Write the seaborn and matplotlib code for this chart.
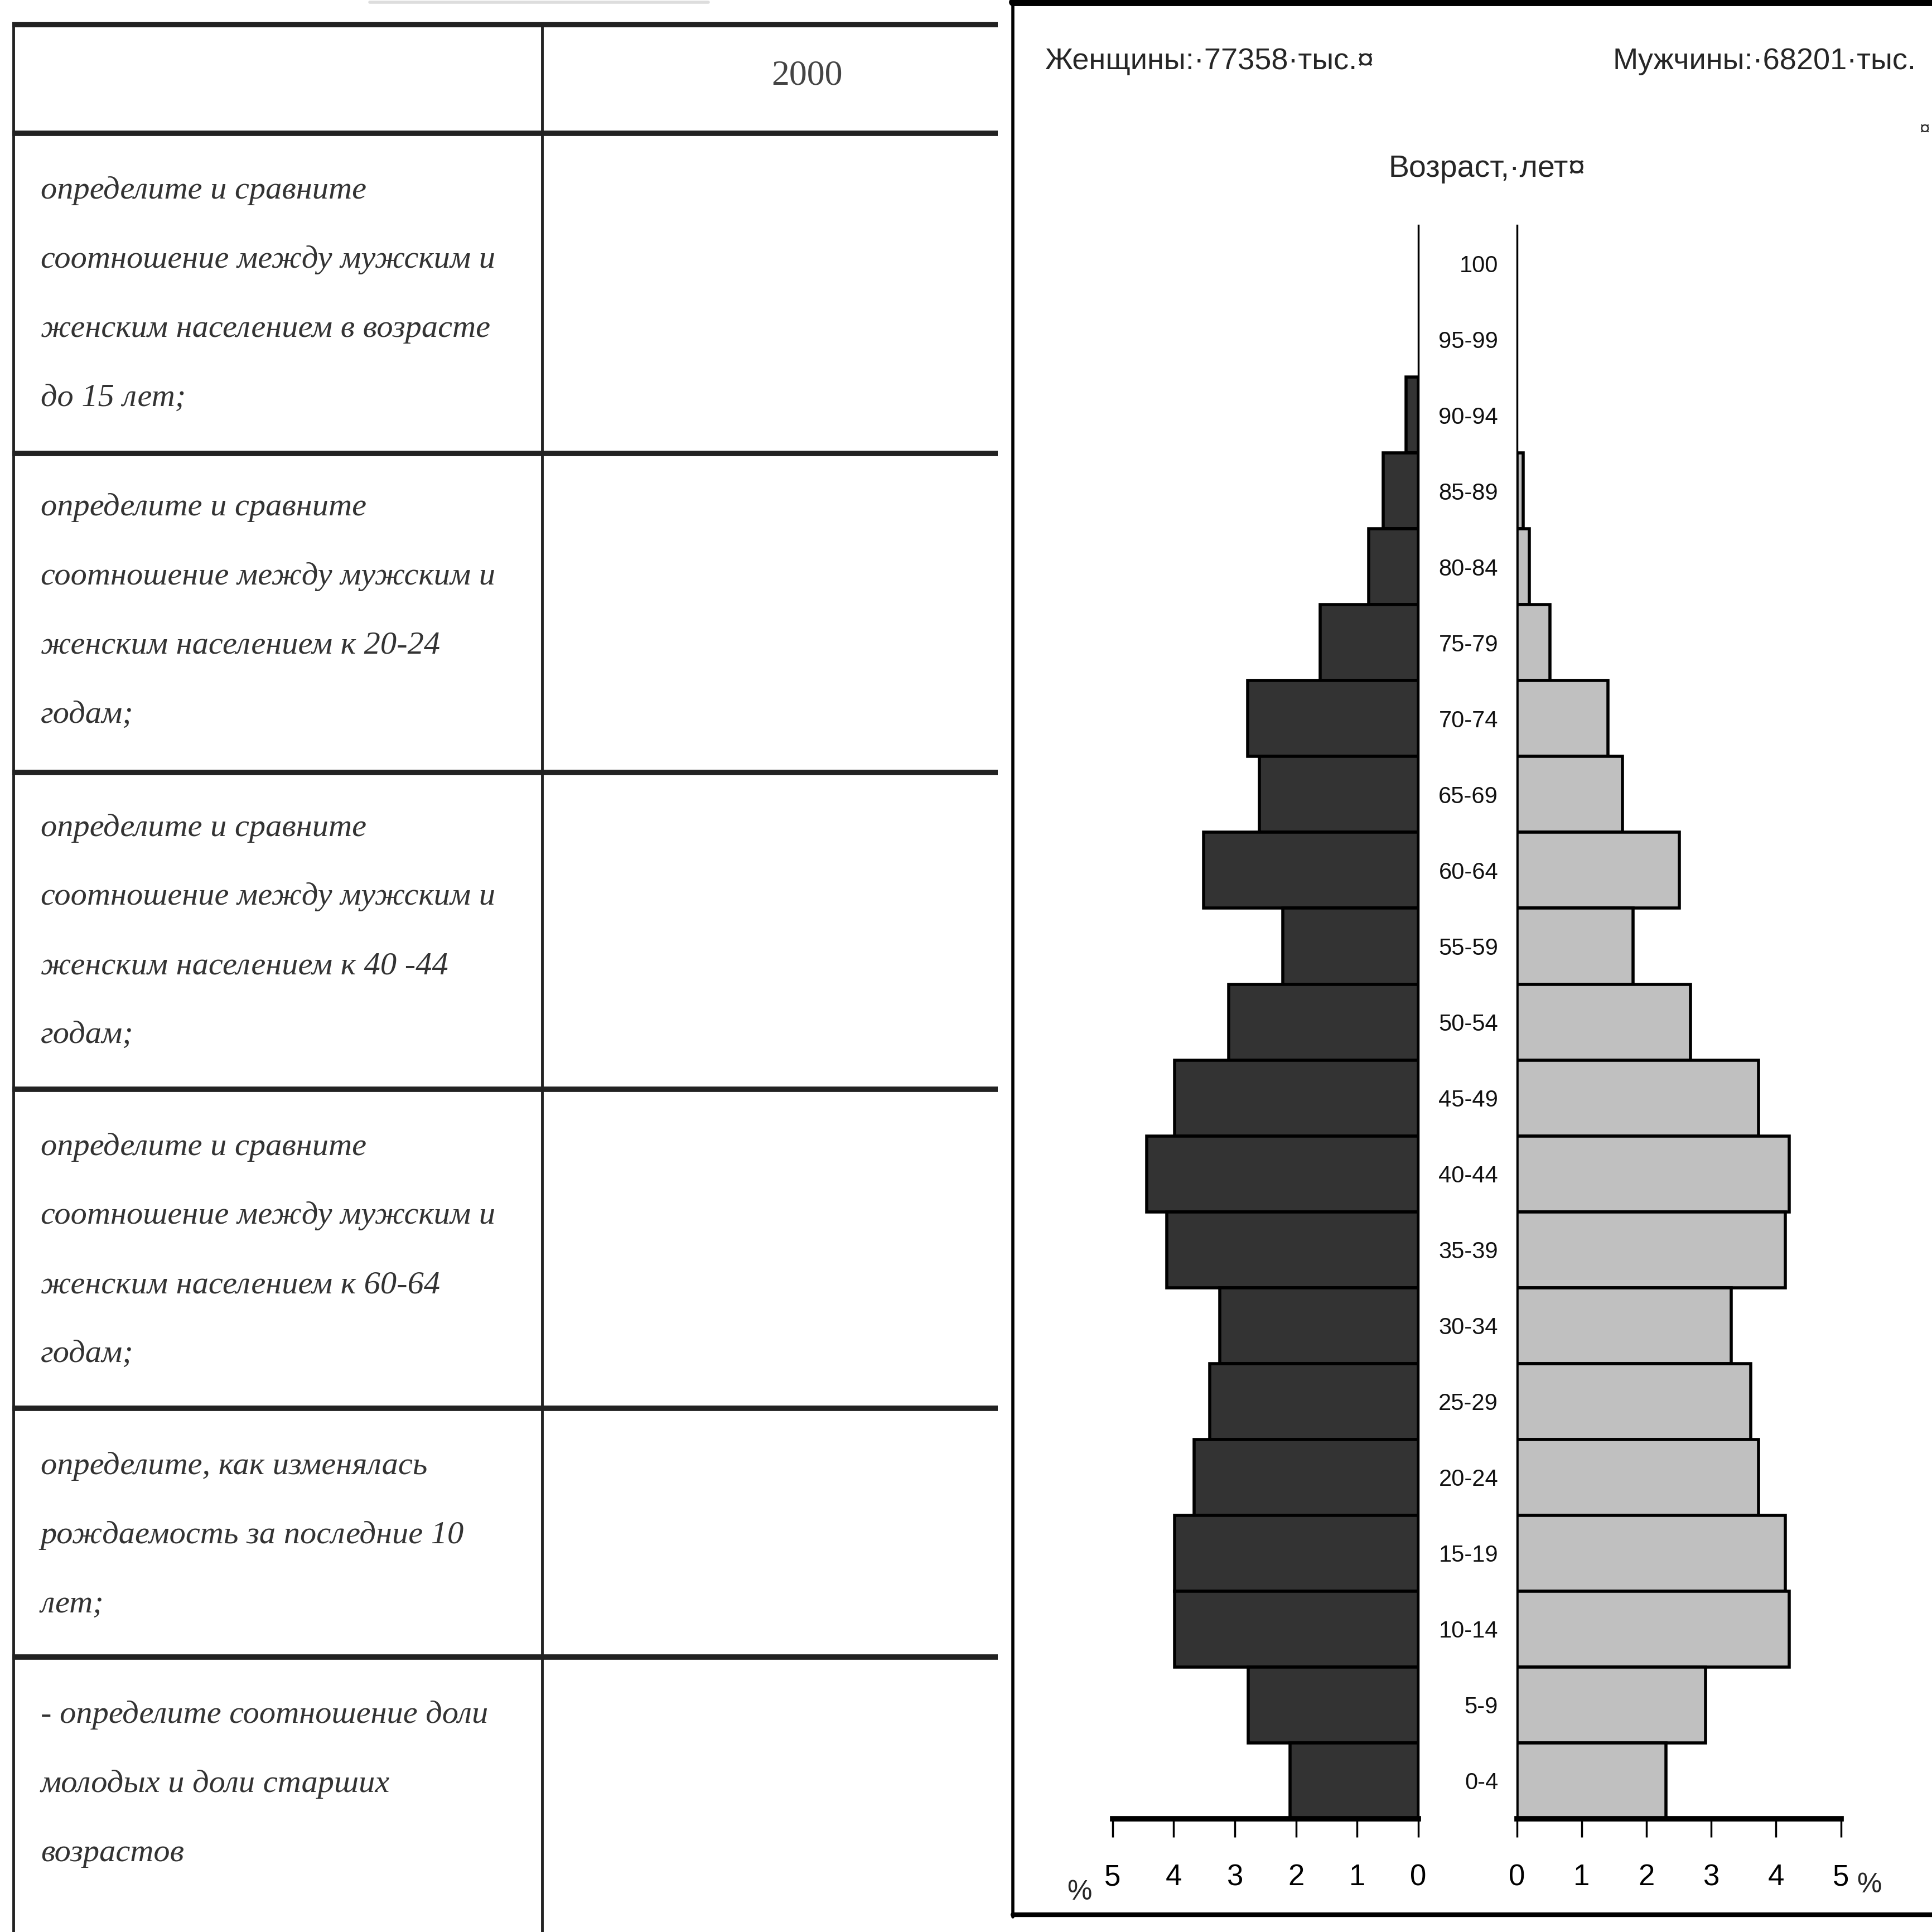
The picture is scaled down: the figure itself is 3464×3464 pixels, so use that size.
import matplotlib
matplotlib.use('Agg')
import matplotlib.pyplot as plt
import matplotlib.font_manager as fm
import seaborn as sns
import pandas as pd

# Data (percent of total population)
ages = ['100', '95-99', '90-94', '85-89', '80-84', '75-79', '70-74', '65-69', '60-64', '55-59',
        '50-54', '45-49', '40-44', '35-39', '30-34', '25-29', '20-24', '15-19', '10-14', '5-9', '0-4']
female = [0, 0, 0.20, 0.57, 0.81, 1.60, 2.79, 2.60, 3.51, 2.22, 3.10, 3.99, 4.44, 4.11,
          3.25, 3.41, 3.67, 3.99, 3.99, 2.78, 2.10]
male = [0, 0, 0, 0.10, 0.19, 0.51, 1.41, 1.63, 2.51, 1.79, 2.68, 3.73, 4.20, 4.14,
        3.31, 3.61, 3.73, 4.14, 4.20, 2.91, 2.30]
pct_ticks = [0, 1, 2, 3, 4, 5]

title_female = 'Женщины:·77358·тыс.¤'
title_male = 'Мужчины:·68201·тыс.'
title_age = 'Возраст,·лет¤'

# Worksheet table on the left
table_header = '2000'
questions = [
    ['определите и сравните', 'соотношение между мужским и', 'женским населением в возрасте', 'до 15 лет;'],
    ['определите и сравните', 'соотношение между мужским и', 'женским населением к 20-24', 'годам;'],
    ['определите и сравните', 'соотношение между мужским и', 'женским населением к 40 -44', 'годам;'],
    ['определите и сравните', 'соотношение между мужским и', 'женским населением к 60-64', 'годам;'],
    ['определите, как изменялась', 'рождаемость за последние 10', 'лет;'],
    ['- определите соотношение доли', 'молодых и доли старших', 'возрастов'],
]

df = pd.DataFrame({'age': ages, 'female': female, 'male': male})

sns.set_theme(style='white')
installed = {f.name for f in fm.fontManager.ttflist}
narrow = next((n for n in ['Liberation Sans Narrow', 'DejaVu Sans Condensed', 'Liberation Sans']
               if n in installed), 'DejaVu Sans')
sans = [narrow, 'DejaVu Sans']
serif = ['Liberation Serif', 'DejaVu Serif']
plt.rcParams['font.family'] = sans

S = 1568  # layout grid (reference pixel units)
fig = plt.figure(figsize=(34.64, 34.64), dpi=100)

# background layer for the table and frame
bg = fig.add_axes([0, 0, 1, 1])
bg.set_xlim(0, S)
bg.set_ylim(S, 0)
bg.axis('off')

tcol = '#222222'
row_lines = [20, 108, 368, 627, 884, 1143, 1345]
for y in row_lines:
    bg.plot([10, 810], [y, y], color=tcol, lw=7, solid_capstyle='butt')
bg.plot([11, 11], [20, 1568], color=tcol, lw=3.5)
bg.plot([440, 440], [20, 1568], color=tcol, lw=3.5)
bg.plot([300, 575], [2, 2], color='#dddddd', lw=4)

bg.text(655, 62, table_header, fontsize=46, family=serif, color='#444444',
        ha='center', va='center')
row_starts = [155, 412, 672, 931, 1190, 1392]
for y0, lines in zip(row_starts, questions):
    for i, line in enumerate(lines):
        bg.text(33, y0 + i * 56, line, fontsize=42, family=serif, style='italic',
                color='#333333', ha='left', va='center')

# frame around the pyramid
bg.plot([822, 822], [0, 1556], color='black', lw=4)
bg.plot([822, S], [2, 2], color='black', lw=10)
bg.plot([822, S], [1554, 1554], color='black', lw=6)

bg.text(848, 50, title_female, fontsize=39, ha='left', va='center')
bg.text(1555, 50, title_male, fontsize=39, ha='right', va='center')
bg.text(1562, 105, '¤', fontsize=24, ha='center', va='center')
bg.text(1207, 137, title_age, fontsize=40, ha='center', va='center')
bg.text(876, 1536, '%', fontsize=36, ha='center', va='center')
bg.text(1517, 1530, '%', fontsize=36, ha='center', va='center')

# pyramid axes
bottom = (S - 1476) / S
height = (1476 - 183) / S
axw = fig.add_axes([903 / S, bottom, (1151 - 903) / S, height])
axm = fig.add_axes([1231 / S, bottom, (1494 - 1231) / S, height])

sns.barplot(data=df, x='female', y='age', ax=axw, color='#333333', saturation=1,
            edgecolor='black', linewidth=4, width=1.0, orient='h')
sns.barplot(data=df, x='male', y='age', ax=axm, color='#c0c0c0', saturation=1,
            edgecolor='black', linewidth=4, width=1.0, orient='h')

for ax in (axw, axm):
    ax.patch.set_alpha(0)
    for p in ax.patches:
        if p.get_width() == 0:
            p.set_linewidth(0)
    ax.set_xticks(pct_ticks)
    ax.set_xticklabels([str(t) for t in pct_ticks])
    ax.set_xlabel('')
    ax.set_ylabel('')
    ax.tick_params(axis='x', direction='out', length=24, width=2.5, pad=34,
                   labelsize=38, bottom=True, color='black', labelcolor='black')
    ax.spines['top'].set_visible(False)
    ax.spines['bottom'].set_linewidth(7)
    ax.spines['bottom'].set_color('black')

axw.set_xlim(5, 0)
axm.set_xlim(0, 5)
axw.spines['left'].set_visible(False)
axw.spines['right'].set_linewidth(2.5)
axw.spines['right'].set_color('black')
axw.set_yticks([])
axm.spines['right'].set_visible(False)
axm.spines['left'].set_linewidth(2.5)
axm.spines['left'].set_color('black')
axm.tick_params(axis='y', length=0, pad=24, labelsize=30, labelcolor='#111111')

fig.savefig('out.png', dpi=100)
